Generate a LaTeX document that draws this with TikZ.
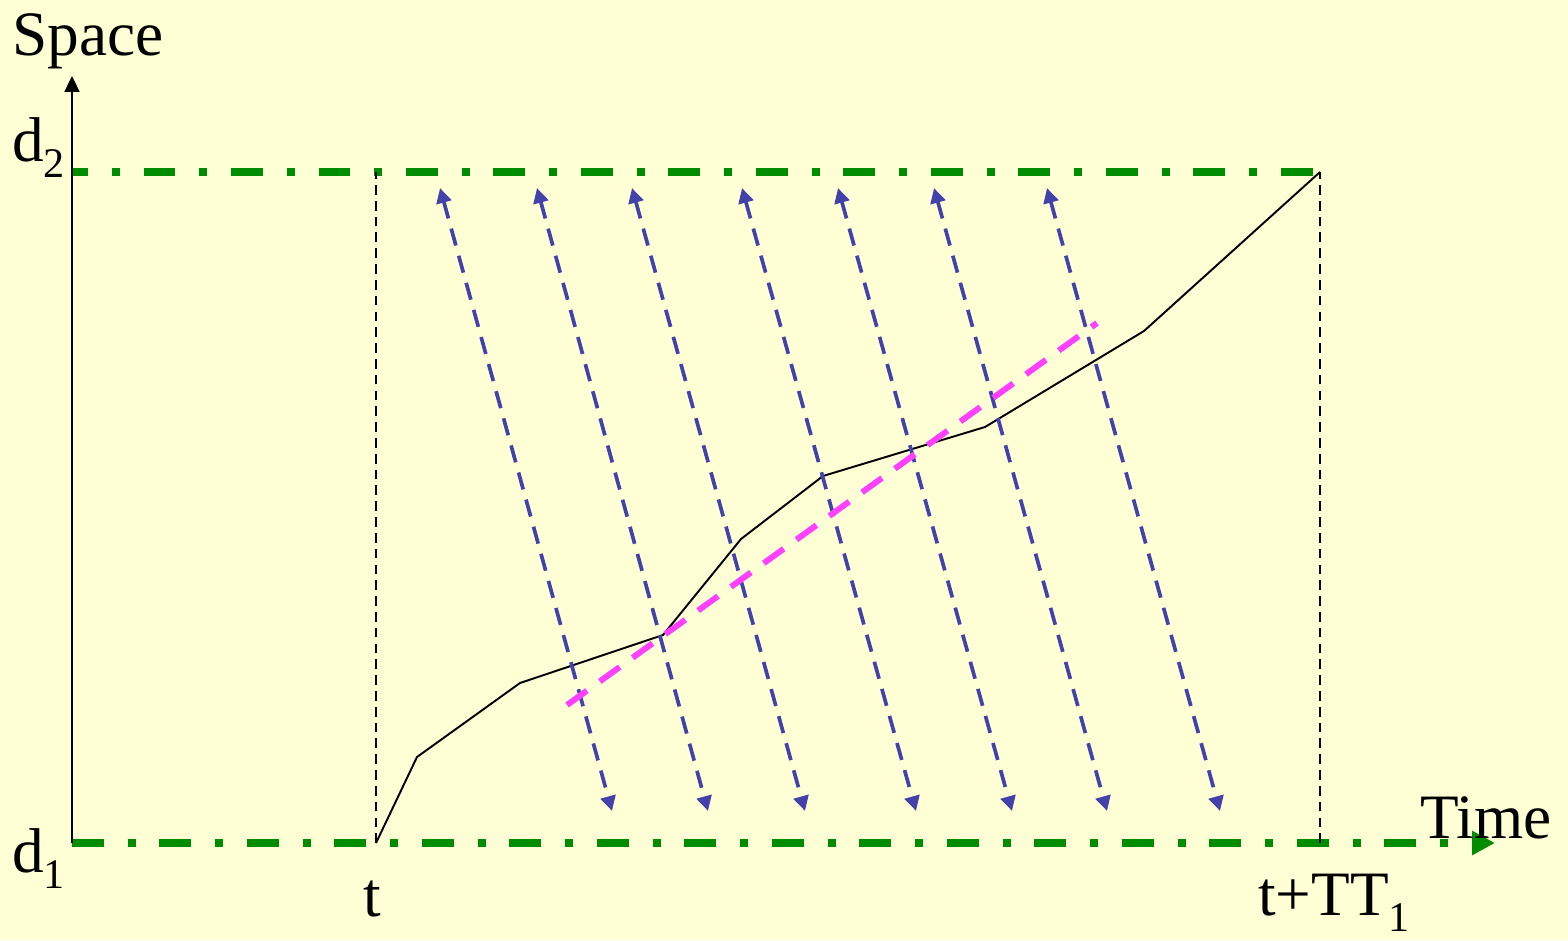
\documentclass[tikz,border=0pt]{standalone}
\usepackage{fontspec}
\setmainfont{Liberation Serif}
\usetikzlibrary{arrows.meta}
\definecolor{bgyellow}{RGB}{255,255,214}
\definecolor{axisgreen}{RGB}{0,140,0}
\definecolor{probeblue}{RGB}{66,66,170}
\definecolor{trendpink}{RGB}{255,64,255}
\newcommand{\lowidx}[1]{\raisebox{-0.26em}{\fontsize{24}{24}\selectfont #1}}

\begin{document}
\begin{tikzpicture}[x=0.02cm, y=-0.02cm,
	every node/.style={font=\fontsize{36}{40}\selectfont, inner sep=0pt},
	bound/.style={axisgreen, line width=4.2pt, dash pattern=on 18.1pt off 13.6pt on 4.5pt off 13.6pt},
	probe/.style={probeblue, line width=2.1pt, dash pattern=on 10pt off 6pt, >={Triangle[length=8.5pt,width=8.5pt]}, <->},
	track/.style={black, line width=1.1pt, line join=round},
	guide/.style={black, line width=1.1pt, dash pattern=on 5.5pt off 3.5pt},
	trend/.style={trendpink, line width=3.4pt, dash pattern=on 14pt off 9pt}]
	\useasboundingbox (0,0) rectangle (1568,940);
	\fill[bgyellow] (0,0) rectangle (1568,940);
	
	\coordinate (origin) at (72,843);
	\coordinate (yend) at (72,76);
	\coordinate (xend) at (1495,843);
	\coordinate (topL) at (72,172);
	\coordinate (topR) at (1320,172);
	\coordinate (tbot) at (376,843);
	\coordinate (ttop) at (376,172);
	\coordinate (ttbot) at (1320,843);
	
	% bounds d1 and d2
	\draw[bound, dash phase=9.1pt] (topL) -- (topR);
	\draw[bound, -{Triangle[length=13pt,width=13pt]}] (origin) -- (xend);
	\draw[black, line width=1.1pt, -{Triangle[length=9pt,width=8.5pt]}] (origin) -- (yend);
	\draw[guide] (tbot) -- (ttop);
	\draw[guide] (ttbot) -- (topR);
	
	% trajectory
	\foreach \n/\x/\y in {0/376/843, 1/417/757, 2/520/683, 3/663/635, 4/741/539, 5/823/476, 6/985/427, 7/1144/331, 8/1320/172}
		\coordinate (p\n) at (\x,\y);
	\draw[track] (p0) \foreach \n in {1,...,8} {-- (p\n)};
	
	\foreach \k/\xa/\xb in {1/440/612, 2/537/708, 3/632/805, 4/742/916, 5/838/1012, 6/934/1107, 7/1047/1220} {
		\coordinate (top\k) at (\xa,188);
		\coordinate (bot\k) at (\xb,811);
		\draw[probe] (top\k) -- (bot\k);
	}
	
	\coordinate (trendA) at (567,705);
	\coordinate (trendB) at (1097,323);
	\draw[trend] (trendA) -- (trendB);
	
	\node[anchor=base west] (lblSpace) at (12,55) {Space};
	\node[anchor=base west] (lblDtwo) at (12,161) {d\lowidx{2}};
	\node[anchor=base west] (lblDone) at (12,872) {d\lowidx{1}};
	\node[anchor=base] (lblT) at (372,916) {t};
	\node[anchor=base west] (lblTT) at (1258,915) {t+TT\lowidx{1}};
	\node[anchor=base west] (lblTime) at (1420,838) {Time};
\end{tikzpicture}
\end{document}
